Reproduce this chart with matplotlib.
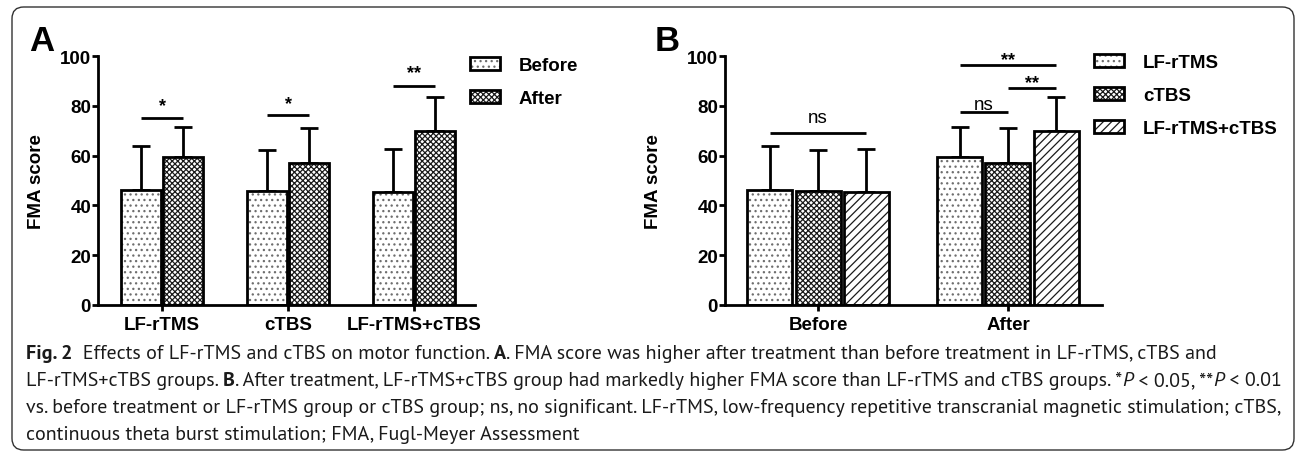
import matplotlib
matplotlib.use("Agg")
import matplotlib.pyplot as plt
from matplotlib.patches import Patch, FancyBboxPatch
from matplotlib import font_manager
import numpy as np

# ---------------- data ----------------
groups = ["LF-rTMS", "cTBS", "LF-rTMS+cTBS"]
times = ["Before", "After"]
# mean FMA score, rows = groups, cols = [Before, After]
mean_lf = [46.2, 59.5]
mean_ctbs = [45.7, 57.0]
mean_combo = [45.2, 70.0]
# SD (upper error bar)
sd_lf = [17.8, 12.0]
sd_ctbs = [16.5, 14.0]
sd_combo = [17.4, 13.6]
yticks = [0, 20, 40, 60, 80, 100]

means = np.array([mean_lf, mean_ctbs, mean_combo])
sds = np.array([sd_lf, sd_ctbs, sd_combo])

# significance annotations: (group idx, bar i, bar j, line y, label, text baseline y)
sig_A = [(0, 0, 1, 75.2, "*", 78.3), (1, 0, 1, 76.4, "*", 79.0), (2, 0, 1, 88.0, "**", 91.4)]
sig_B = [(0, 0, 2, 68.9, "ns", 73.5), (1, 0, 1, 77.5, "ns", 78.7),
         (1, 1, 2, 87.0, "**", 87.6), (1, 0, 2, 96.3, "**", 96.6)]

W, H = 1295, 452
fig = plt.figure(figsize=(W / 100, H / 100), dpi=100)
plt.rcParams['hatch.linewidth'] = 0.9
BF = 'Liberation Sans'
plt.rcParams['font.family'] = [BF, 'DejaVu Sans']

def fx(px):
    return px / W

def fy(py):
    return 1 - py / H

# styles
styles = [dict(fc='white', hc='#6e6e6e', hatch='...'),
          dict(fc='white', hc='#1a1a1a', hatch='xxxxxx'),
          dict(fc='white', hc='#1a1a1a', hatch='////')]

def draw_bars(ax, xs, heights, errs, st, width):
    ax.bar(xs, heights, width, color=st['fc'], edgecolor=st['hc'], hatch=st['hatch'], lw=0, zorder=2)
    ax.bar(xs, heights, width, fill=False, edgecolor='black', lw=2.0, zorder=3)
    ax.errorbar(xs, heights, yerr=[np.zeros(len(errs)), errs], fmt='none', ecolor='black',
                elinewidth=2.0, capsize=6.5, capthick=2.0, zorder=1)

def style_axes(ax, xlabels, xlim):
    ax.set_ylim(0, 100)
    ax.set_xlim(*xlim)
    ax.set_yticks(yticks)
    ax.set_xticks(range(len(xlabels)))
    ax.set_xticklabels(xlabels)
    for s in ['top', 'right']:
        ax.spines[s].set_visible(False)
    for s in ['left', 'bottom']:
        ax.spines[s].set_linewidth(2.0)
    ax.tick_params(axis='both', direction='out', length=4, width=2.0, labelsize=13.5)
    ax.tick_params(axis='y', pad=1)
    ax.tick_params(axis='x', pad=4)
    for lab in ax.get_xticklabels() + ax.get_yticklabels():
        lab.set_fontweight('bold')
    ax.set_ylabel("FMA score", fontsize=13.5, fontweight='bold')

def legend_handles():
    return [(Patch(facecolor=st['fc'], edgecolor=st['hc'], hatch=st['hatch'], lw=0),
             Patch(fill=False, edgecolor='black', lw=2.0)) for st in styles]

# ---------------- Panel A ----------------
axA = fig.add_axes([fx(98), fy(306), fx(475 - 98), (306 - 57) / H])
wA = 0.32
offA = 0.167
x = np.arange(len(groups))
stA = [styles[0], styles[1]]
for t in range(2):
    draw_bars(axA, x + (t - 0.5) * 2 * offA, means[:, t], sds[:, t], stA[t], wA)
style_axes(axA, groups, (-0.508, 2.484))
axA.yaxis.set_label_coords(fx(45 - 98) / fx(475 - 98), 0.5)
for g, i, j, ly, lab, ty in sig_A:
    x1 = g + (i - 0.5) * 2 * offA
    x2 = g + (j - 0.5) * 2 * offA
    axA.plot([x1, x2], [ly, ly], color='black', lw=2.0, clip_on=False, solid_capstyle='butt')
    axA.text((x1 + x2) / 2, ty, lab, ha='center', va='baseline', fontsize=13, fontweight='bold')
hA = legend_handles()[:2]
legA = axA.legend(hA, times, loc='upper left', bbox_to_anchor=(fx(470), fy(58)),
                  bbox_transform=fig.transFigure, frameon=False,
                  handlelength=1.6, handleheight=0.65, labelspacing=0.85, handletextpad=1.0,
                  borderpad=0, borderaxespad=0, prop={'weight': 'bold', 'size': 13.5})

# ---------------- Panel B ----------------
axB = fig.add_axes([fx(725), fy(306), fx(1102 - 725), (306 - 57) / H])
wB = 0.237
offB = 0.255
xt = np.arange(len(times))
for gi in range(3):
    draw_bars(axB, xt + (gi - 1) * offB, means[gi, :], sds[gi, :], styles[gi], wB)
style_axes(axB, times, (-0.49, 1.495))
axB.yaxis.set_label_coords(fx(662 - 725) / fx(1102 - 725), 0.5)
for g, i, j, ly, lab, ty in sig_B:
    x1 = g + (i - 1) * offB
    x2 = g + (j - 1) * offB
    axB.plot([x1, x2], [ly, ly], color='black', lw=2.0, clip_on=False, solid_capstyle='butt')
    if lab == 'ns':
        axB.text((x1 + x2) / 2, ty, lab, ha='center', va='baseline', fontsize=13.5)
    else:
        axB.text((x1 + x2) / 2, ty, lab, ha='center', va='baseline', fontsize=13, fontweight='bold')
legB = axB.legend(legend_handles(), groups, loc='upper left', bbox_to_anchor=(fx(1094), fy(55)),
                  bbox_transform=fig.transFigure, frameon=False,
                  handlelength=1.6, handleheight=0.7, labelspacing=0.85, handletextpad=1.0,
                  borderpad=0, borderaxespad=0, prop={'weight': 'bold', 'size': 13.5})

# panel letters
fig.text(fx(29), fy(51), "A", fontsize=25, fontweight='bold', va='baseline', ha='left')
fig.text(fx(655), fy(51), "B", fontsize=25, fontweight='bold', va='baseline', ha='left')

# ---------------- border ----------------
border = FancyBboxPatch((fx(12), fy(451)), fx(1294 - 12), (451 - 8) / H,
                        boxstyle="round,pad=0,rounding_size=0.009",
                        transform=fig.transFigure, fill=False, edgecolor='#333333', lw=1.0,
                        mutation_aspect=W / H)
fig.add_artist(border)

# ---------------- caption ----------------
def usable(name):
    ents = [f for f in font_manager.fontManager.ttflist if f.name == name]
    regular = {f.fname for f in ents if f.style == 'normal' and f.weight in (400, 'normal', 'regular')}
    bold = {f.fname for f in ents if f.style == 'normal' and f.weight in (700, 'bold')}
    return bool(regular) and bool(bold) and not (regular & bold)

CF = 'Open Sans'
for cand in ['Source Sans Pro', 'Source Sans 3', 'PT Sans', 'Open Sans']:
    if usable(cand):
        CF = cand
        break

cap_lines = [
    [("Fig. 2", 'bold', 'normal'), ("  Effects of LF-rTMS and cTBS on motor function. ", 'normal', 'normal'),
     ("A", 'bold', 'normal'),
     (". FMA score was higher after treatment than before treatment in LF-rTMS, cTBS and", 'normal', 'normal')],
    [("LF-rTMS+cTBS groups. ", 'normal', 'normal'), ("B", 'bold', 'normal'),
     (". After treatment, LF-rTMS+cTBS group had markedly higher FMA score than LF-rTMS and cTBS groups. *", 'normal', 'normal'),
     ("P", 'normal', 'italic'), (" < 0.05, **", 'normal', 'normal'), ("P", 'normal', 'italic'),
     (" < 0.01", 'normal', 'normal')],
    [("vs. before treatment or LF-rTMS group or cTBS group; ns, no significant. LF-rTMS, low-frequency repetitive transcranial magnetic stimulation; cTBS,", 'normal', 'normal')],
    [("continuous theta burst stimulation; FMA, Fugl-Meyer Assessment", 'normal', 'normal')],
]
baselines = [359, 386, 413, 440]
renderer = fig.canvas.get_renderer()

def measure(runs, size):
    tot = 0
    for s, wt, sty in runs:
        t = fig.text(0, 0, s, fontsize=size, fontweight=wt, fontstyle=sty, family=[CF, 'DejaVu Sans'])
        tot += t.get_window_extent(renderer).width
        t.remove()
    return tot

base = 11.0
target = 1276 - 26
wmeas = measure(cap_lines[1], base)
csize = min(base * target / wmeas, 16.0)

for runs, by in zip(cap_lines, baselines):
    xpos = 26
    for s, wt, sty in runs:
        t = fig.text(fx(xpos), fy(by), s, fontsize=csize, fontweight=wt, fontstyle=sty,
                     family=[CF, 'DejaVu Sans'], va='baseline', ha='left', color='#1a1a1a')
        xpos += t.get_window_extent(renderer).width

fig.savefig("out.png", dpi=100)
